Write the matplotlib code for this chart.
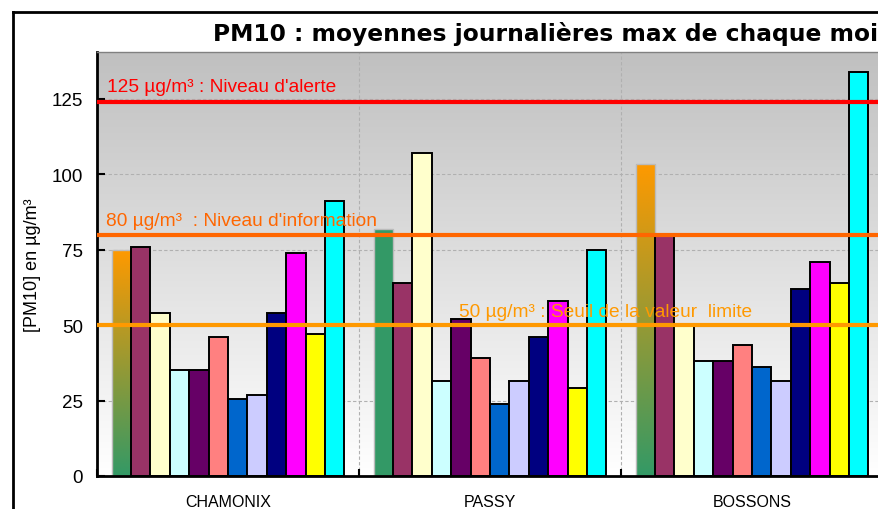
import matplotlib
matplotlib.use("Agg")
import matplotlib.pyplot as plt
import numpy as np
from matplotlib.colors import LinearSegmentedColormap
from matplotlib.lines import Line2D
from matplotlib.ticker import FixedLocator

# %%
# Data
stations = ["CHAMONIX", "PASSY", "BOSSONS"]
months = ["janv", "févr", "mars", "avr", "mai", "juin",
          "juil", "août", "sept", "oct", "nov", "déc"]

chamonix = [75, 76, 54, 35, 35, 46, 25.5, 27, 54, 74, 47, 91]
passy = [82, 64, 107, 31.5, 52, 39, 24, 31.5, 46, 58, 29, 75]
bossons = [103.5, 79.5, 50, 38, 38, 43.5, 36, 31.5, 62, 71, 64, 134]
values = [chamonix, passy, bossons]

thresholds = [124, 80, 50]
threshold_labels = [
    "125 µg/m³ : Niveau d'alerte",
    "80 µg/m³  : Niveau d'information",
    "50 µg/m³ : Seuil de la valeur  limite",
]

# %%
# Styling
month_colors = ["#339966", "#993366", "#FFFFCC", "#CCFFFF", "#660066", "#FF8080",
                "#0066CC", "#CCCCFF", "#000080", "#FF00FF", "#FFFF00", "#00FFFF"]
threshold_colors = ["#FF0000", "#FF6600", "#FF9900"]
jan_cmap = LinearSegmentedColormap.from_list("jan", ["#339966", "#FF9900"])
gray_bg = LinearSegmentedColormap.from_list("bg", ["#FFFFFF", "#C0C0C0"])

plt.rcParams["font.family"] = ["Liberation Sans", "DejaVu Sans"]

W, H = 879, 510
fig = plt.figure(figsize=(W / 100, H / 100), dpi=100)


def fx(px):
    return px / W


def fy(px):
    return 1 - px / H


ax = fig.add_axes([fx(97), fy(477), fx(883) - fx(97), fy(53) - fy(477)])
ymax = 140.5

# plot-area gradient, grey on top to white at the bottom
grad = np.linspace(0, 1, 256)[:, None]
ax.imshow(grad, cmap=gray_bg, origin="lower", aspect="auto",
          extent=[0, 3, 0, ymax], zorder=0)

n = len(months)
slot = 1 / (n + 1.5)
for i, vals in enumerate(values):
    for k, v in enumerate(vals):
        left = i + (0.75 + k) * slot
        if k == 0:
            if stations[i] == "PASSY":
                ax.bar(left, v, width=slot, align="edge", color=month_colors[0],
                       edgecolor="#BBBBBB", linewidth=1, zorder=2)
            else:
                bar = ax.bar(left, v, width=slot, align="edge", color="none",
                             edgecolor="#BBBBBB", linewidth=1, zorder=2)[0]
                im = ax.imshow(grad, cmap=jan_cmap, origin="lower", aspect="auto",
                               extent=[left, left + slot, 0, v], zorder=1.9)
                im.set_clip_path(bar)
        else:
            ax.bar(left, v, width=slot, align="edge", color=month_colors[k],
                   edgecolor="black", linewidth=1.4, zorder=2)

ax.set_xlim(0, 3)
ax.set_ylim(0, ymax)

# threshold lines and their labels
label_pos = [(0.038, 127.6), (0.034, 83.1), (1.382, 53.1)]
for t, lab, c, (tx, ty) in zip(thresholds, threshold_labels, threshold_colors, label_pos):
    ax.axhline(t, color=c, lw=3, zorder=3)
    ax.text(tx, ty, lab, color=c, fontsize=13.8, va="baseline", ha="left", zorder=4)

# axes, ticks, grid
ax.set_yticks([0, 25, 50, 75, 100, 125])
ax.set_xticks([0.5, 1.5, 2.5])
ax.set_xticklabels(stations, fontsize=11.5)
ax.xaxis.set_minor_locator(FixedLocator([0, 1, 2, 3]))
ax.tick_params(axis="y", direction="in", length=6, width=1.5, pad=10, labelsize=13.5)
ax.tick_params(axis="x", which="major", length=0, pad=13)
ax.tick_params(axis="x", which="minor", direction="in", length=5, width=1.5)
ax.grid(axis="y", which="major", color="#B0B0B0", lw=0.8, ls=(0, (3, 2)), zorder=0.5)
ax.grid(axis="x", which="minor", color="#B0B0B0", lw=0.8, ls=(0, (3, 2)), zorder=0.5)
ax.set_axisbelow(True)
ax.set_ylabel("[PM10] en µg/m³", fontsize=13, labelpad=8)

for side in ["left", "bottom"]:
    ax.spines[side].set_linewidth(2)
    ax.spines[side].set_color("black")
ax.spines["top"].set_color("#808080")
ax.spines["top"].set_linewidth(1)
ax.spines["right"].set_visible(False)

# outer chart frame (cropped on the right and bottom)
fig.add_artist(Line2D([fx(13), 1.02], [fy(13), fy(13)], color="black", lw=2))
fig.add_artist(Line2D([fx(13), fx(13)], [fy(13), -0.02], color="black", lw=2))

fig.text(fx(213), fy(41.5), "PM10 : moyennes journalières max de chaque mois",
         fontsize=16.8, fontweight="bold", family="DejaVu Sans",
         ha="left", va="baseline")

fig.savefig("out.png", dpi=100)
